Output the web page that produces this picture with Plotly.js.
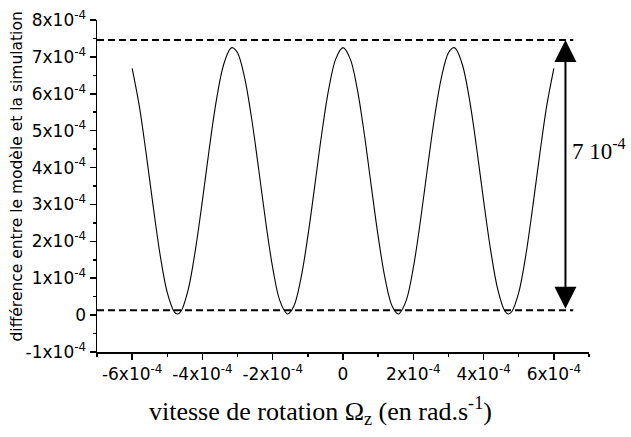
<!DOCTYPE html>
<html>
<head>
<meta charset="utf-8">
<script src="https://cdn.plot.ly/plotly-3.0.1.min.js"></script>
<style>html,body{margin:0;padding:0;background:#fff;}</style>
</head>
<body>
<div id="chart" style="width:631px;height:437px;"></div>
<script>
// rotation speed (units of 1e-4 rad/s)
const omega = [-6.0,-5.8,-5.6,-5.4,-5.2,-5.0,-4.8,-4.71,-4.6,-4.4,-4.2,-4.0,-3.8,-3.6,-3.4,-3.2,-3.14,-3.0,-2.8,-2.6,-2.4,-2.2,-2.0,-1.8,-1.6,-1.57,-1.4,-1.2,-1.0,-0.8,-0.6,-0.4,-0.2,
  0.0,0.2,0.4,0.6,0.8,1.0,1.2,1.4,1.57,1.6,1.8,2.0,2.2,2.4,2.6,2.8,3.0,3.14,3.2,3.4,3.6,3.8,4.0,4.2,4.4,4.6,4.71,4.8,5.0,5.2,5.4,5.6,5.8,6.0];
// difference model - simulation (units of 1e-4)
const diff = [6.69,5.69,4.37,2.94,1.61,0.61,0.09,0.03,0.12,0.71,1.77,3.11,4.55,5.84,6.78,7.23,7.25,7.11,6.44,5.33,3.96,2.53,1.28,0.40,0.04,0.03,0.24,0.98,2.14,3.53,4.95,6.16,6.96,
  7.25,6.96,6.16,4.95,3.53,2.14,0.98,0.24,0.03,0.04,0.40,1.28,2.53,3.96,5.33,6.44,7.11,7.25,7.23,6.78,5.84,4.55,3.11,1.77,0.71,0.12,0.03,0.09,0.61,1.61,2.94,4.37,5.69,6.69];

const xTickVals = [-6,-4,-2,0,2,4,6];
const xTickText = ["-6x10<sup>-4</sup>","-4x10<sup>-4</sup>","-2x10<sup>-4</sup>","0","2x10<sup>-4</sup>","4x10<sup>-4</sup>","6x10<sup>-4</sup>"];
const yTickVals = [-1,0,1,2,3,4,5,6,7,8];
const yTickText = ["-1x10<sup>-4</sup>","0","1x10<sup>-4</sup>","2x10<sup>-4</sup>","3x10<sup>-4</sup>","4x10<sup>-4</sup>","5x10<sup>-4</sup>","6x10<sup>-4</sup>","7x10<sup>-4</sup>","8x10<sup>-4</sup>"];

// reference levels (units of 1e-4)
const levelTop = 7.46;
const levelBottom = 0.135;
const levelLineEnd = 6.55;
const arrowX = 6.33;
const amplitudeLabel = "7 10<sup>-4</sup>";
const amplitudeLabelX = 6.47;
const amplitudeLabelY = 4.5;

const S = 1e-4;
const sc = a => a.map(v => v * S);

const trace = {
  x: sc(omega), y: sc(diff),
  type: 'scatter', mode: 'lines',
  line: {color: '#000', width: 1.1, shape: 'spline', smoothing: 1},
  hoverinfo: 'skip', showlegend: false
};

const tickFont = {family: 'DejaVu Sans', size: 17, color: '#000'};

const layout = {
  width: 631, height: 437,
  margin: {l: 97, r: 42, t: 20, b: 85},
  paper_bgcolor: '#fff', plot_bgcolor: '#fff',
  showlegend: false,
  xaxis: {
    range: [-7 * S, 7 * S],
    tickmode: 'array', tickvals: sc(xTickVals), ticktext: xTickText,
    ticks: 'outside', ticklen: 6, tickwidth: 1.5, tickcolor: '#000',
    minor: {tickmode: 'linear', tick0: -7 * S, dtick: S, ticks: 'outside', ticklen: 3, tickwidth: 1.5, tickcolor: '#000'},
    showline: true, linecolor: '#000', linewidth: 1.5,
    showgrid: false, zeroline: false,
    tickfont: tickFont, fixedrange: true
  },
  yaxis: {
    range: [-1 * S, 8 * S],
    tickmode: 'array', tickvals: sc(yTickVals), ticktext: yTickText,
    ticks: 'outside', ticklen: 6, tickwidth: 1.5, tickcolor: '#000',
    minor: {tickmode: 'linear', tick0: -1 * S, dtick: 0.5 * S, ticks: 'outside', ticklen: 3, tickwidth: 1.5, tickcolor: '#000'},
    showline: true, linecolor: '#000', linewidth: 1.5,
    showgrid: false, zeroline: false,
    tickfont: tickFont, fixedrange: true
  },
  shapes: [
    {type: 'line', xref: 'x', yref: 'y', x0: -7 * S, x1: levelLineEnd * S, y0: levelTop * S, y1: levelTop * S,
     line: {color: '#000', width: 2, dash: '7px,4px'}},
    {type: 'line', xref: 'x', yref: 'y', x0: -7 * S, x1: levelLineEnd * S, y0: levelBottom * S, y1: levelBottom * S,
     line: {color: '#000', width: 2, dash: '7px,4px'}}
  ],
  annotations: [
    {xref: 'x', yref: 'y', axref: 'x', ayref: 'y',
     x: arrowX * S, y: levelTop * S, ax: arrowX * S, ay: levelBottom * S,
     text: '', showarrow: true, arrowside: 'end+start', arrowhead: 2, startarrowhead: 2,
     arrowsize: 2.2, startarrowsize: 2.2, arrowwidth: 2, arrowcolor: '#000'},
    {xref: 'x', yref: 'y', x: amplitudeLabelX * S, y: amplitudeLabelY * S, xanchor: 'left', yanchor: 'middle',
     text: amplitudeLabel, showarrow: false,
     font: {family: 'Liberation Serif', size: 23, color: '#000'}},
    {xref: 'paper', yref: 'paper', x: -0.1626, y: 0.5286, xanchor: 'center', yanchor: 'middle',
     textangle: -90, showarrow: false,
     text: 'différence entre le modèle et la simulation',
     font: {family: 'DejaVu Sans', size: 15.5, color: '#000'}},
    {xref: 'paper', yref: 'paper', x: 0.455, y: -0.178, xanchor: 'center', yanchor: 'middle',
     showarrow: false,
     text: 'vitesse de rotation Ω<sub>z</sub> (en rad.s<sup>-1</sup>)',
     font: {family: 'Liberation Serif', size: 26, color: '#000'}}
  ]
};

Plotly.newPlot('chart', [trace], layout, {staticPlot: true, displayModeBar: false});
</script>
</body>
</html>
